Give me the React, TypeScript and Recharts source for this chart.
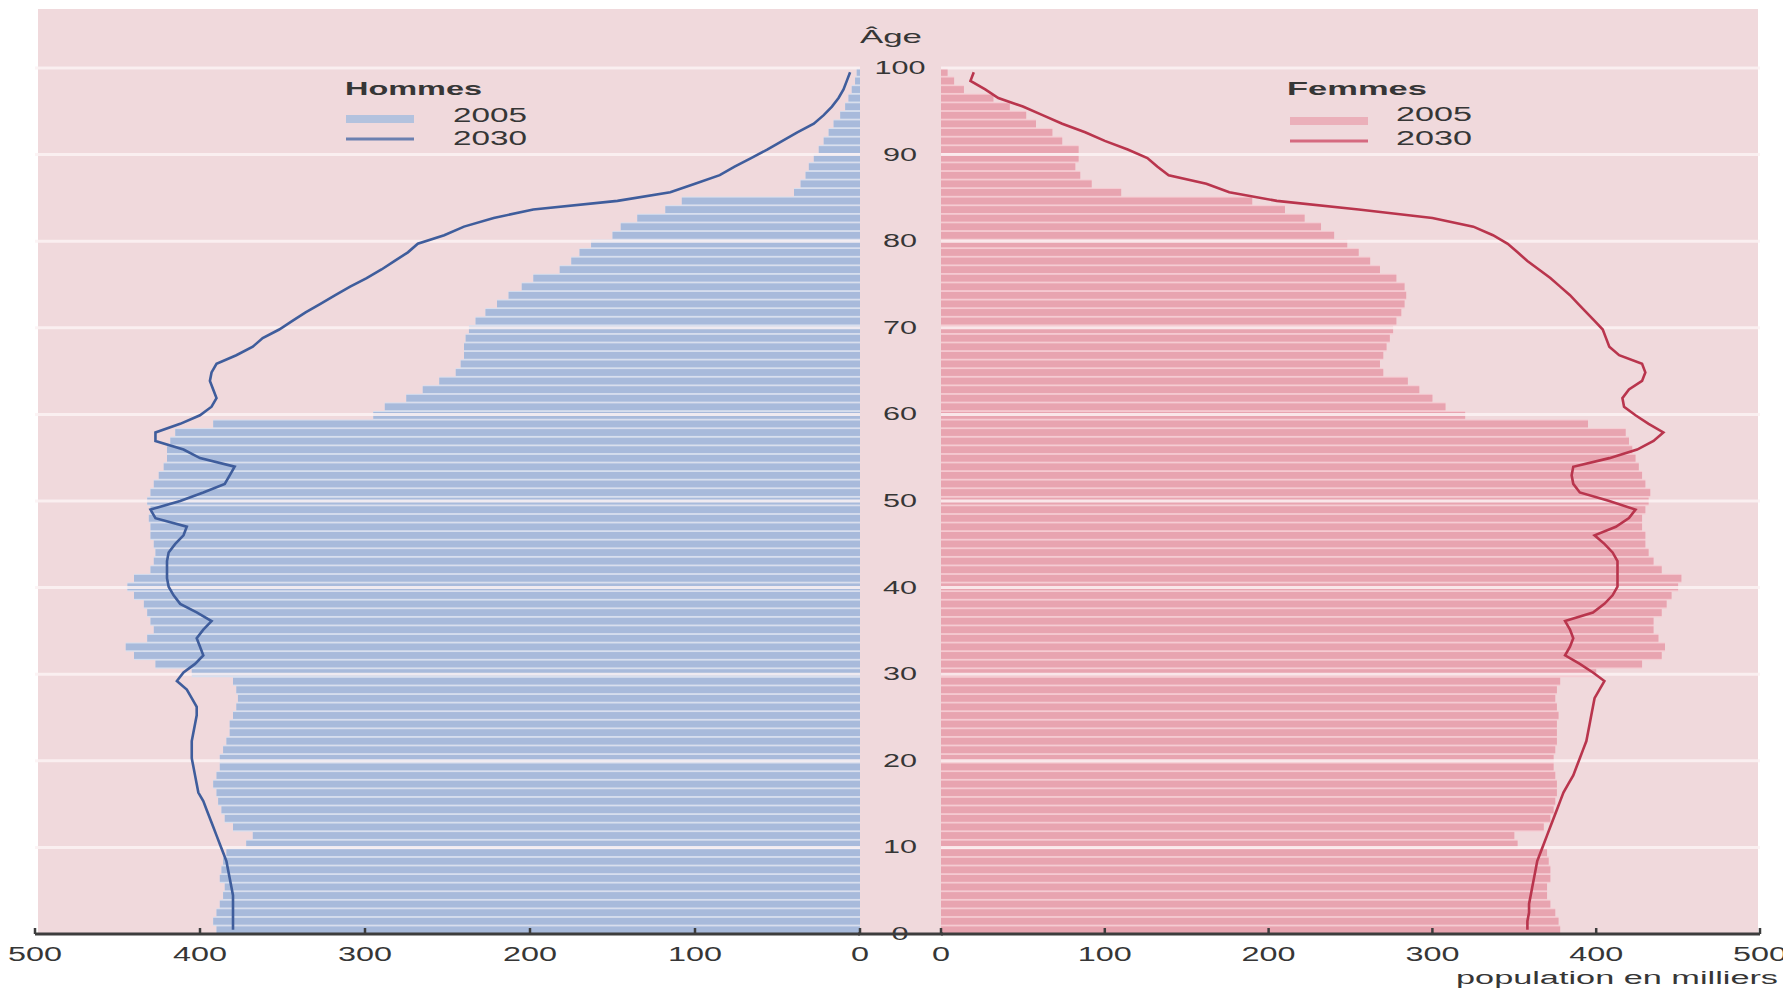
import React from "react";
import { Bar, ComposedChart, Line, ReferenceLine, XAxis, YAxis } from "recharts";

const ages = [
  0, 1, 2, 3, 4, 5, 6, 7, 8, 9, 10, 11, 12, 13, 14, 15, 16, 17, 18, 19, 20, 21, 22, 23, 24, 25, 26, 27, 28, 29,
  30, 31, 32, 33, 34, 35, 36, 37, 38, 39, 40, 41, 42, 43, 44, 45, 46, 47, 48, 49, 50, 51, 52, 53, 54, 55, 56, 57, 58, 59,
  60, 61, 62, 63, 64, 65, 66, 67, 68, 69, 70, 71, 72, 73, 74, 75, 76, 77, 78, 79, 80, 81, 82, 83, 84, 85, 86, 87, 88, 89,
  90, 91, 92, 93, 94, 95, 96, 97, 98, 99, 100
];

// milliers de personnes, par âge
const hommes2005 = [
  390, 392, 390, 388, 386, 385, 388, 387, 386, 384,
  372, 368, 380, 385, 387, 389, 390, 392, 390, 388,
  388, 386, 384, 382, 382, 380, 378, 377, 378, 380,
  405, 427, 440, 445, 432, 428, 430, 432, 434, 440,
  444, 440, 430, 428, 427, 428, 430, 430, 431, 430,
  432, 430, 428, 425, 422, 420, 420, 418, 415, 392,
  295, 288, 275, 265, 255, 245, 242, 240, 240, 239,
  237, 233, 227, 220, 213, 205, 198, 182, 175, 170,
  163, 150, 145, 135, 118, 108, 40, 36, 33, 31,
  28, 25, 22, 19, 16, 12, 9, 7, 5, 3, 2
];

const hommes2030 = [
  380, 380, 380, 380, 380, 381, 382, 383, 384, 386,
  388, 390, 392, 394, 396, 398, 401, 402, 403, 404,
  405, 405, 405, 404, 403, 402, 402, 405, 408, 414,
  410, 403, 398, 400, 402, 398, 393, 402, 412, 416,
  419, 420, 420, 420, 419, 415, 410, 408, 427, 430,
  412, 398, 385, 382, 379, 400, 410, 427, 427, 412,
  400, 393, 390, 392, 394, 393, 390, 378, 368, 362,
  352, 344, 336, 327, 318, 309, 299, 290, 282, 274,
  268, 252, 240, 222, 198, 147, 115, 100, 85, 76,
  66, 56, 47, 38, 28, 22, 17, 13, 10, 8, 6
];

const femmes2005 = [
  378, 377, 375, 372, 370, 370, 372, 372, 371, 370,
  352, 350, 368, 372, 374, 375, 376, 376, 375, 374,
  374, 375, 376, 376, 376, 377, 376, 375, 376, 378,
  400, 428, 440, 442, 438, 435, 435, 440, 443, 446,
  450, 452, 440, 435, 432, 430, 430, 428, 428, 430,
  432, 433, 430, 428, 426, 424, 422, 420, 418, 395,
  320, 308, 300, 292, 285, 270, 268, 270, 272, 274,
  276, 278, 281, 283, 284, 283, 278, 268, 262, 255,
  248, 240, 232, 222, 210, 190, 110, 92, 85, 82,
  84, 84, 74, 68, 58, 52, 42, 32, 14, 8, 4
];

const femmes2030 = [
  358, 358, 359, 359, 360, 361, 362, 363, 364, 366,
  368, 370, 372, 374, 376, 378, 380, 383, 386, 388,
  390, 392, 394, 395, 396, 397, 398, 399, 402, 405,
  398, 390, 381, 384, 386, 384, 381, 398, 405, 410,
  413, 413, 413, 413, 410, 405, 399, 412, 420, 424,
  408, 390, 386, 385, 386, 408, 425, 435, 441, 432,
  424, 417, 416, 420, 428, 430, 428, 414, 408, 406,
  404, 399, 394, 389, 384, 378, 372, 365, 358, 352,
  346, 337, 325, 300, 255, 205, 176, 162, 139, 132,
  126, 114, 100, 88, 74, 62, 50, 35, 27, 18, 20
];

const ageTicks = [0, 10, 20, 30, 40, 50, 60, 70, 80, 90, 100];
const gridAges = [10, 20, 30, 40, 50, 60, 70, 80, 90, 100];
const popTicks = [0, 100, 200, 300, 400, 500];

const rows = ages.map((age, i) => ({
  age,
  h2005: hommes2005[i],
  h2030: hommes2030[i],
  f2005: femmes2005[i],
  f2030: femmes2030[i]
}));

const W = 1783;
const H = 991;
const AXIS_Y = 934;
const FONT = "'Liberation Sans', Arial, sans-serif";
const TEXT = "#363636";
const BG = "#f0d9dc";
const BLUE_BAR = "#a8badb";
const BLUE_GAP = "#d8dfee";
const BLUE_LINE = "#3f5d9c";
const PINK_BAR = "#e8a4b0";
const PINK_GAP = "#f5cbd2";
const RED_LINE = "#b9354d";

function stripedBar(main: string, light: string) {
  return (props: any) => {
    const { x, y, width, height } = props;
    if (!width || !height) return <g />;
    const x0 = width < 0 ? x + width : x;
    const y0 = height < 0 ? y + height : y;
    const w = Math.abs(width);
    const h = Math.abs(height);
    return (
      <g>
        <rect x={x0} y={y0} width={w} height={h} fill={light} />
        <rect x={x0} y={y0 + 1} width={w} height={Math.max(h - 2.2, 0)} fill={main} />
      </g>
    );
  };
}

function PopTick(props: any) {
  const { x, y, payload } = props;
  const label = String(payload.value);
  return (
    <g>
      <line x1={x} x2={x} y1={y} y2={y - 6} stroke="#3d3d3d" strokeWidth={2.5} />
      <text
        x={x}
        y={y + 20}
        textAnchor="middle"
        dominantBaseline="central"
        fontFamily={FONT}
        fontSize={20}
        fill={TEXT}
        textLength={label.length * 18}
        lengthAdjust="spacingAndGlyphs"
      >
        {label}
      </text>
    </g>
  );
}

// labels d'âge centrés dans la bande entre les deux demi-pyramides
function AgeTick(props: any) {
  const { x, y, payload } = props;
  const label = String(payload.value);
  return (
    <text
      x={x - 41}
      y={y}
      textAnchor="middle"
      dominantBaseline="central"
      fontFamily={FONT}
      fontSize={18}
      fill={TEXT}
      textLength={label.length * 17}
      lengthAdjust="spacingAndGlyphs"
    >
      {label}
    </text>
  );
}

function StretchText({ x, y, w, size, bold, anchor, children }: any) {
  return (
    <text
      x={x}
      y={y}
      textAnchor={anchor || "start"}
      dominantBaseline="central"
      fontFamily={FONT}
      fontSize={size}
      fontWeight={bold ? 700 : 400}
      fill={TEXT}
      textLength={w}
      lengthAdjust="spacingAndGlyphs"
    >
      {children}
    </text>
  );
}

const chartMargin = { top: 68, bottom: H - AXIS_Y - 30 };

export default function App() {
  return (
    <div style={{ position: "absolute", left: 0, top: 0, width: W, height: H, background: "#fff", overflow: "hidden" }}>
      <div style={{ position: "absolute", left: 38, top: 9, width: 1720, height: AXIS_Y - 9, background: BG }} />

      {/* Hommes */}
      <div style={{ position: "absolute", left: 0, top: 0 }}>
        <ComposedChart
          layout="vertical"
          width={W}
          height={H}
          data={rows}
          margin={{ ...chartMargin, right: 923, left: 35 }}
          barCategoryGap={0}
        >
          <XAxis
            type="number"
            domain={[0, 500]}
            ticks={popTicks}
            reversed
            allowDataOverflow
            interval={0}
            height={30}
            tickSize={0}
            tickMargin={0}
            tickLine={false}
            axisLine={{ stroke: "#3d3d3d", strokeWidth: 3 }}
            tick={(p: any) => <PopTick {...p} />}
          />
          <YAxis yAxisId="grid" type="number" domain={[0, 101]} reversed allowDataOverflow hide width={0} />
          <YAxis yAxisId="age" type="category" dataKey="age" reversed hide width={0} />
          <Bar yAxisId="age" dataKey="h2005" name="2005" shape={stripedBar(BLUE_BAR, BLUE_GAP)} isAnimationActive={false} />
          {gridAges.map((a) => (
            <ReferenceLine key={a} yAxisId="grid" y={a} stroke="#fbf2f3" strokeWidth={3} strokeOpacity={0.85} />
          ))}
          <Line
            yAxisId="age"
            dataKey="h2030"
            name="2030"
            type="linear"
            stroke={BLUE_LINE}
            strokeWidth={2.6}
            dot={false}
            isAnimationActive={false}
          />
        </ComposedChart>
      </div>

      {/* Femmes */}
      <div style={{ position: "absolute", left: 0, top: 0 }}>
        <ComposedChart
          layout="vertical"
          width={W}
          height={H}
          data={rows}
          margin={{ ...chartMargin, right: 23, left: 860 }}
          barCategoryGap={0}
        >
          <XAxis
            type="number"
            domain={[0, 500]}
            ticks={popTicks}
            allowDataOverflow
            interval={0}
            height={30}
            tickSize={0}
            tickMargin={0}
            tickLine={false}
            axisLine={{ stroke: "#3d3d3d", strokeWidth: 3 }}
            tick={(p: any) => <PopTick {...p} />}
          />
          <YAxis
            yAxisId="grid"
            type="number"
            domain={[0, 101]}
            reversed
            allowDataOverflow
            ticks={ageTicks}
            interval={0}
            width={81}
            tickSize={0}
            tickMargin={0}
            axisLine={false}
            tickLine={false}
            tick={(p: any) => <AgeTick {...p} />}
          />
          <YAxis yAxisId="age" type="category" dataKey="age" reversed hide width={0} />
          <Bar yAxisId="age" dataKey="f2005" name="2005" shape={stripedBar(PINK_BAR, PINK_GAP)} isAnimationActive={false} />
          {gridAges.map((a) => (
            <ReferenceLine key={a} yAxisId="grid" y={a} stroke="#fbf2f3" strokeWidth={3} strokeOpacity={0.85} />
          ))}
          <Line
            yAxisId="age"
            dataKey="f2030"
            name="2030"
            type="linear"
            stroke={RED_LINE}
            strokeWidth={2.6}
            dot={false}
            isAnimationActive={false}
          />
        </ComposedChart>
      </div>

      <svg width={W} height={H} style={{ position: "absolute", left: 0, top: 0, pointerEvents: "none" }}>
        <line x1={858} x2={943} y1={AXIS_Y} y2={AXIS_Y} stroke="#3d3d3d" strokeWidth={3} />
        <StretchText x={891} y={36} w={62} size={19} anchor="middle">Âge</StretchText>

        <StretchText x={345} y={88} w={137} size={19} bold>Hommes</StretchText>
        <rect x={346} y={115} width={68} height={8} fill="#b3c2de" />
        <StretchText x={453} y={115} w={74} size={20}>2005</StretchText>
        <line x1={346} x2={414} y1={139} y2={139} stroke="#6b80b0" strokeWidth={3} />
        <StretchText x={453} y={138} w={74} size={20}>2030</StretchText>

        <StretchText x={1287} y={88} w={140} size={19} bold>Femmes</StretchText>
        <rect x={1290} y={117} width={78} height={8} fill="#ebb0ba" />
        <StretchText x={1396} y={114} w={76} size={20}>2005</StretchText>
        <line x1={1290} x2={1368} y1={141} y2={141} stroke="#d56a80" strokeWidth={3} />
        <StretchText x={1396} y={138} w={76} size={20}>2030</StretchText>

        <StretchText x={1778} y={978} w={322} size={18} anchor="end">population en milliers</StretchText>
      </svg>
    </div>
  );
}
